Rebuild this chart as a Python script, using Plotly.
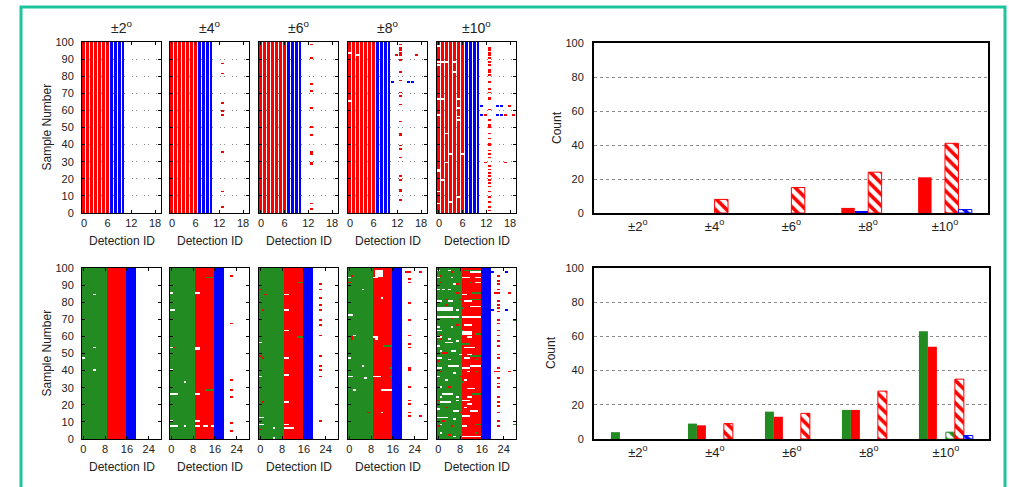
import plotly.graph_objects as go

# ---------------- data ----------------
angles = ["±2<sup>o</sup>", "±4<sup>o</sup>", "±6<sup>o</sup>", "±8<sup>o</sup>", "±10<sup>o</sup>"]
samples = list(range(100))
top_ids = list(range(20))
bottom_ids = list(range(29))

top_base_classes = ["R"] * 7 + ["B"] * 4 + ["W"] * 9
bottom_base_classes = ["G"] * 9 + ["R"] * 7 + ["B"] * 4 + ["W"] * 9

# top row: samples with a red detection at ID 13
top_2_red13 = []
top_4_red13 = [87, 81, 64, 59, 57, 35, 12, 3]
top_6_red13 = [98, 90, 75, 71, 61, 50, 45, 35, 34, 29, 28, 5, 2]
top_8_red13 = [98, 96, 95, 93, 92, 89, 82, 77, 70, 68, 63, 53, 46, 45, 39, 37, 32, 21, 19, 13, 12, 7]
top_10_red13 = [96, 95, 93, 92, 90, 88, 86, 83, 82, 80, 76, 72, 70, 67, 66, 60, 54, 51, 50, 46, 43,
                40, 39, 36, 34, 32, 27, 25, 23, 21, 19, 17, 15, 12, 9, 6, 3, 1]

# top row: other marks (sample, first id, last id, class)
top_2_marks = []
top_4_marks = []
top_6_marks = []
top_8_marks = [(92, 12, 12, "R"), (92, 17, 17, "R"), (93, 0, 0, "W"), (92, 2, 2, "W"), (65, 0, 0, "W"),
               (76, 11, 11, "B"), (76, 15, 16, "B")]
top_10_marks = [(97, 0, 0, "W"), (88, 0, 2, "W"), (88, 4, 4, "W"), (86, 0, 0, "W"), (82, 4, 4, "W"),
                (66, 0, 1, "W"), (66, 5, 5, "W"), (61, 5, 5, "W"), (57, 0, 0, "W"), (56, 5, 5, "W"),
                (54, 5, 5, "W"), (46, 2, 2, "W"), (34, 3, 3, "W"), (34, 6, 6, "W"), (29, 2, 2, "W"),
                (25, 0, 0, "W"), (24, 0, 0, "W"), (19, 1, 1, "W"), (12, 0, 0, "W"), (9, 5, 5, "W"),
                (6, 3, 3, "W"), (5, 0, 0, "W"), (62, 11, 11, "B"), (62, 15, 16, "B"), (62, 18, 18, "R"),
                (57, 11, 11, "B"), (57, 12, 12, "R"), (57, 15, 16, "B"), (57, 17, 17, "R"),
                (57, 19, 19, "R"), (29, 12, 12, "R"), (29, 17, 17, "R")]

# bottom row: samples with a red detection at ID 22
bottom_2_red22 = []
bottom_4_red22 = [95, 67, 34, 28, 24, 9, 4]
bottom_6_red22 = [90, 87, 82, 78, 75, 69, 66, 60, 48, 42, 40, 36, 10]
bottom_8_red22 = [97, 93, 91, 79, 69, 60, 55, 53, 41, 40, 30, 22, 20, 15, 13]
bottom_10_red22 = [95, 92, 90, 87, 85, 80, 78, 76, 74, 69, 67, 63, 60, 57, 54, 49, 47, 41, 39, 35,
                   32, 30, 24, 21, 19, 15, 10, 7]

# bottom row: other marks (sample, first id, last id, class)
bottom_2_marks = [(84, 4, 4, "W"), (53, 4, 4, "W"), (47, 0, 0, "W"), (40, 4, 4, "W")]
bottom_4_marks = [(85, 0, 0, "W"), (85, 9, 10, "W"), (75, 0, 1, "W"), (53, 0, 0, "W"), (52, 9, 10, "W"),
                  (53, 9, 10, "W"), (40, 0, 0, "W"), (33, 5, 5, "W"), (26, 0, 2, "W"), (26, 9, 10, "W"),
                  (10, 0, 0, "W"), (10, 9, 10, "W"), (7, 0, 2, "W"), (7, 5, 5, "W"), (7, 9, 10, "W"),
                  (7, 12, 13, "W"), (7, 15, 15, "W"), (94, 13, 15, "G"), (28, 13, 15, "G"), (53, 1, 1, "R")]
bottom_6_marks = [(87, 0, 0, "R"), (84, 2, 2, "R"), (75, 1, 1, "R"), (48, 0, 0, "R"), (47, 1, 1, "R"),
                  (21, 1, 1, "R"), (5, 0, 0, "R"), (56, 0, 0, "W"), (36, 0, 0, "W"), (12, 0, 1, "W"),
                  (8, 0, 1, "W"), (6, 5, 5, "W"), (0, 5, 5, "W"), (84, 9, 10, "W"), (75, 9, 10, "W"),
                  (63, 9, 10, "W"), (47, 9, 10, "W"), (37, 9, 10, "W"), (21, 9, 10, "W"), (8, 9, 10, "W"),
                  (6, 9, 12, "W"), (91, 14, 15, "G"), (59, 14, 15, "G")]
bottom_8_marks = [(94, 0, 0, "W"), (87, 5, 5, "W"), (72, 0, 1, "W"), (60, 2, 2, "W"), (47, 0, 0, "W"),
                  (42, 5, 5, "W"), (36, 0, 1, "W"), (35, 6, 6, "W"), (28, 2, 2, "W"), (95, 1, 1, "R"),
                  (91, 0, 0, "R"), (59, 1, 1, "R"), (58, 1, 1, "R"), (15, 7, 7, "R"), (95, 10, 12, "W"),
                  (96, 10, 12, "W"), (97, 10, 12, "W"), (98, 10, 12, "W"), (94, 9, 10, "W"),
                  (82, 12, 12, "W"), (59, 9, 10, "W"), (58, 10, 10, "W"), (36, 9, 11, "W"),
                  (28, 12, 15, "W"), (15, 12, 12, "W"), (54, 13, 15, "G"), (41, 15, 15, "G"),
                  (36, 15, 15, "G"), (97, 21, 21, "R"), (97, 26, 26, "R"), (13, 26, 26, "R")]
bottom_10_marks = [
    (98, 0, 0, "W"), (98, 4, 4, "W"), (97, 5, 5, "R"), (98, 10, 15, "G"), (97, 12, 15, "W"),
    (97, 20, 20, "B"), (97, 25, 25, "B"), (75, 20, 20, "B"), (75, 25, 25, "B"),
    (94, 0, 0, "W"), (94, 5, 5, "W"), (95, 1, 1, "R"), (94, 9, 11, "W"), (94, 14, 15, "W"),
    (91, 1, 1, "R"), (90, 6, 6, "W"), (90, 7, 7, "R"), (91, 12, 12, "G"), (91, 14, 15, "W"),
    (87, 0, 0, "W"), (87, 2, 2, "W"), (87, 4, 4, "W"), (85, 7, 7, "R"), (84, 9, 10, "W"), (85, 13, 15, "G"),
    (80, 0, 1, "W"), (80, 4, 5, "W"), (81, 3, 3, "R"), (81, 8, 8, "R"), (80, 10, 12, "W"), (81, 12, 15, "G"),
    (76, 0, 5, "W"), (75, 0, 5, "W"), (75, 7, 7, "W"), (76, 9, 9, "G"), (77, 12, 15, "W"), (78, 3, 3, "R"),
    (71, 0, 7, "W"), (71, 9, 15, "W"), (70, 5, 5, "R"), (69, 28, 28, "G"),
    (65, 0, 0, "W"), (65, 5, 5, "W"), (66, 7, 7, "R"), (66, 10, 12, "W"), (63, 9, 9, "G"), (63, 0, 1, "W"),
    (60, 1, 1, "R"), (62, 9, 12, "W"), (61, 9, 12, "W"), (61, 14, 15, "G"),
    (59, 0, 1, "W"), (58, 4, 4, "W"), (58, 1, 1, "R"), (59, 11, 12, "W"),
    (56, 3, 5, "W"), (54, 0, 0, "W"), (57, 7, 7, "W"), (55, 9, 11, "G"), (53, 10, 13, "W"),
    (51, 1, 1, "W"), (50, 2, 3, "R"), (51, 5, 6, "W"), (49, 8, 8, "W"), (49, 11, 12, "W"), (48, 12, 15, "G"),
    (47, 0, 1, "W"), (46, 4, 4, "W"), (45, 0, 0, "R"), (47, 10, 11, "W"), (46, 14, 14, "G"),
    (42, 4, 7, "W"), (42, 12, 15, "W"),
    (41, 0, 1, "W"), (41, 9, 11, "W"), (39, 11, 11, "W"), (39, 1, 1, "R"), (38, 6, 6, "W"), (39, 14, 14, "G"),
    (36, 0, 0, "W"), (34, 3, 3, "W"), (36, 8, 8, "R"), (34, 10, 10, "W"), (33, 9, 9, "G"),
    (30, 1, 1, "W"), (30, 4, 4, "R"), (29, 11, 13, "W"),
    (26, 2, 5, "W"), (24, 1, 1, "W"), (24, 7, 7, "W"), (26, 13, 15, "G"), (24, 11, 12, "W"),
    (21, 1, 4, "W"), (22, 7, 7, "W"), (22, 0, 0, "R"), (22, 9, 11, "W"), (20, 11, 12, "W"),
    (17, 0, 0, "W"), (18, 3, 3, "R"), (16, 6, 7, "W"), (15, 8, 8, "R"), (18, 10, 10, "W"), (16, 12, 14, "W"),
    (12, 0, 3, "W"), (10, 2, 2, "R"), (11, 6, 6, "W"), (13, 9, 11, "W"),
    (8, 1, 1, "W"), (7, 0, 0, "R"), (7, 5, 5, "R"), (8, 14, 15, "G"), (7, 9, 10, "W"), (8, 28, 28, "G"),
    (3, 1, 1, "W"), (1, 6, 6, "W"), (1, 9, 15, "W"), (2, 4, 4, "R"), (3, 14, 14, "G"),
    (85, 21, 21, "R"), (85, 26, 26, "R"), (39, 21, 21, "R"), (39, 26, 26, "R")]

# bar charts (counts per angle)
top_red_solid = [0, 0, 0, 3, 21]
top_blue_solid = [0, 0, 0, 1, 0]
top_red_hatched = [0, 8, 15, 24, 41]
top_blue_hatched = [0, 0, 0, 0, 2]

bottom_green_solid = [4, 9, 16, 17, 63]
bottom_red_solid = [0, 8, 13, 17, 54]
bottom_blue_solid = [0, 0, 0, 0, 0]
bottom_green_hatched = [0, 0, 0, 0, 4]
bottom_red_hatched = [0, 9, 15, 28, 35]
bottom_blue_hatched = [0, 0, 0, 0, 2]

# ---------------- styling ----------------
W, H = 1009, 487
GREEN, RED, BLUE = "#228b22", "#ff0000", "#0000ff"
TEXT = "#222222"
GRID = "#8a8a8a"
FONT = "Liberation Sans, Arial, sans-serif"
CODE = {"W": 0, "G": 1, "R": 2, "B": 3}
CSCALE = [[0, "white"], [0.1667, "white"], [0.1667, GREEN], [0.5, GREEN],
          [0.5, RED], [0.8333, RED], [0.8333, BLUE], [1, BLUE]]


def px_x(p):
    return p / W


def px_y(p):
    return 1 - p / H


def build(base, ids_spot, spot_samples, marks):
    z = [[CODE[c] for c in base] for _ in samples]
    for s in spot_samples:
        z[s][ids_spot] = CODE["R"]
    for s, a, b, c in marks:
        for i in range(a, b + 1):
            z[s][i] = CODE[c]
    return z


top_panels = [
    build(top_base_classes, 13, top_2_red13, top_2_marks),
    build(top_base_classes, 13, top_4_red13, top_4_marks),
    build(top_base_classes, 13, top_6_red13, top_6_marks),
    build(top_base_classes, 13, top_8_red13, top_8_marks),
    build(top_base_classes, 13, top_10_red13, top_10_marks),
]
bottom_panels = [
    build(bottom_base_classes, 22, bottom_2_red22, bottom_2_marks),
    build(bottom_base_classes, 22, bottom_4_red22, bottom_4_marks),
    build(bottom_base_classes, 22, bottom_6_red22, bottom_6_marks),
    build(bottom_base_classes, 22, bottom_8_red22, bottom_8_marks),
    build(bottom_base_classes, 22, bottom_10_red22, bottom_10_marks),
]

panel_x_px = [(82, 161), (170, 249), (259, 338), (348, 427), (437, 516)]
top_y_px = (42, 213)
bot_y_px = (268, 439)

fig = go.Figure()
layout = dict(width=W, height=H, autosize=False, margin=dict(l=0, r=0, t=0, b=0, pad=0),
              paper_bgcolor="white", plot_bgcolor="white", showlegend=False,
              font=dict(family=FONT, color=TEXT, size=11),
              barmode="group", bargap=0.3, bargroupgap=0.0)

annotations = []
ax_n = 0


def note(text, xp, yp, size, angle=0):
    return dict(text=text, x=px_x(xp), y=px_y(yp), xref="paper", yref="paper", showarrow=False,
                xanchor="center", yanchor="middle", textangle=angle,
                font=dict(size=size, color=TEXT, family=FONT))


def heat_axes(n, xdom, ydom, xr, xt, show_y):
    xa = dict(domain=xdom, range=xr, tickvals=xt, ticks="inside", ticklen=3, tickcolor="black",
              showline=True, linecolor="black", linewidth=1, mirror="ticks",
              showgrid=True, gridcolor=GRID, griddash="dot", gridwidth=1, zeroline=False,
              automargin=False, tickfont=dict(size=11, color=TEXT),
              anchor="y" + ("" if n == 1 else str(n)))
    ya = dict(domain=ydom, range=[0, 100], tickvals=list(range(0, 101, 10)), ticks="inside", ticklen=3,
              tickcolor="black", showline=True, linecolor="black", linewidth=1, mirror="ticks",
              showgrid=True, gridcolor=GRID, griddash="dot", gridwidth=1, zeroline=False,
              automargin=False, showticklabels=show_y, tickfont=dict(size=11, color=TEXT),
              ticklabelstandoff=5, anchor="x" + ("" if n == 1 else str(n)))
    return xa, ya


for row, (panels, ypx, ids, xt, gap) in enumerate([
        (top_panels, top_y_px, top_ids, [0, 6, 12, 18], 1),
        (bottom_panels, bot_y_px, bottom_ids, [0, 8, 16, 24], 0)]):
    ydom = [px_y(ypx[1]), px_y(ypx[0])]
    for i, z in enumerate(panels):
        ax_n += 1
        sfx = "" if ax_n == 1 else str(ax_n)
        xdom = [px_x(panel_x_px[i][0]), px_x(panel_x_px[i][1])]
        xa, ya = heat_axes(ax_n, xdom, ydom, [-0.5, len(ids) - 0.5], xt, i == 0)
        layout["xaxis" + sfx] = xa
        layout["yaxis" + sfx] = ya
        fig.add_trace(go.Heatmap(z=z, x=ids, y=[s + 0.5 for s in samples], colorscale=CSCALE,
                                 zmin=0, zmax=3, showscale=False, xgap=gap, ygap=0,
                                 hoverinfo="skip", xaxis="x" + sfx, yaxis="y" + sfx))
        cx = (panel_x_px[i][0] + panel_x_px[i][1]) / 2
        if row == 0:
            annotations.append(note(angles[i], cx, 27, 14))
        annotations.append(note("Detection ID", cx, ypx[1] + 28, 12))
    annotations.append(note("Sample Number", 46, (ypx[0] + ypx[1]) / 2, 12, -90))


def bar_axes(n, xpx, ypx):
    sfx = str(n)
    xa = dict(domain=[px_x(xpx[0]), px_x(xpx[1])], type="category", range=[-0.57, 4.56],
              showline=True, linecolor="black", linewidth=2, mirror=True, ticks="",
              showgrid=False, automargin=False, tickfont=dict(size=13, color=TEXT), anchor="y" + sfx)
    ya = dict(domain=[px_y(ypx[1]), px_y(ypx[0])], range=[0, 100], tickvals=list(range(0, 101, 20)),
              showline=True, linecolor="black", linewidth=2, mirror=True, ticks="",
              showgrid=True, gridcolor=GRID, griddash="dot", gridwidth=1, zeroline=False,
              automargin=False, tickfont=dict(size=11, color=TEXT), ticklabelstandoff=6,
              anchor="x" + sfx)
    return xa, ya


def add_bar(vals, color, hatched, n):
    y = [v if v else None for v in vals]
    if hatched:
        marker = dict(color="white", line=dict(color=color, width=1),
                      pattern=dict(shape="\\", fgcolor=color, bgcolor="white", size=8,
                                   solidity=0.45, fillmode="replace"))
    else:
        marker = dict(color=color, line=dict(width=0))
    fig.add_trace(go.Bar(x=angles, y=y, marker=marker, xaxis="x" + str(n), yaxis="y" + str(n),
                         hoverinfo="skip"))


ax_n += 1
n_top = ax_n
xa, ya = bar_axes(n_top, (594, 988), (43, 213))
layout["xaxis" + str(n_top)] = xa
layout["yaxis" + str(n_top)] = ya
add_bar(top_red_solid, RED, False, n_top)
add_bar(top_blue_solid, BLUE, False, n_top)
add_bar(top_red_hatched, RED, True, n_top)
add_bar(top_blue_hatched, BLUE, True, n_top)

ax_n += 1
n_bot = ax_n
xa, ya = bar_axes(n_bot, (594, 989), (268, 439))
layout["xaxis" + str(n_bot)] = xa
layout["yaxis" + str(n_bot)] = ya
add_bar(bottom_green_solid, GREEN, False, n_bot)
add_bar(bottom_red_solid, RED, False, n_bot)
add_bar(bottom_blue_solid, BLUE, False, n_bot)
add_bar(bottom_green_hatched, GREEN, True, n_bot)
add_bar(bottom_red_hatched, RED, True, n_bot)
add_bar(bottom_blue_hatched, BLUE, True, n_bot)

annotations.append(note("Count", 557, 128, 12, -90))
annotations.append(note("Count", 551, 353, 12, -90))

layout["annotations"] = annotations
layout["shapes"] = [
    dict(type="rect", xref="paper", yref="paper", x0=px_x(21), x1=px_x(1005), y0=px_y(500), y1=px_y(7),
         line=dict(color="#1fc39c", width=3), fillcolor="rgba(0,0,0,0)", layer="above"),
]
fig.update_layout(**layout)
fig.write_html("out.html", config={"displayModeBar": False, "responsive": False},
               post_script="document.body.style.margin='0px';document.body.style.overflow='hidden';")
